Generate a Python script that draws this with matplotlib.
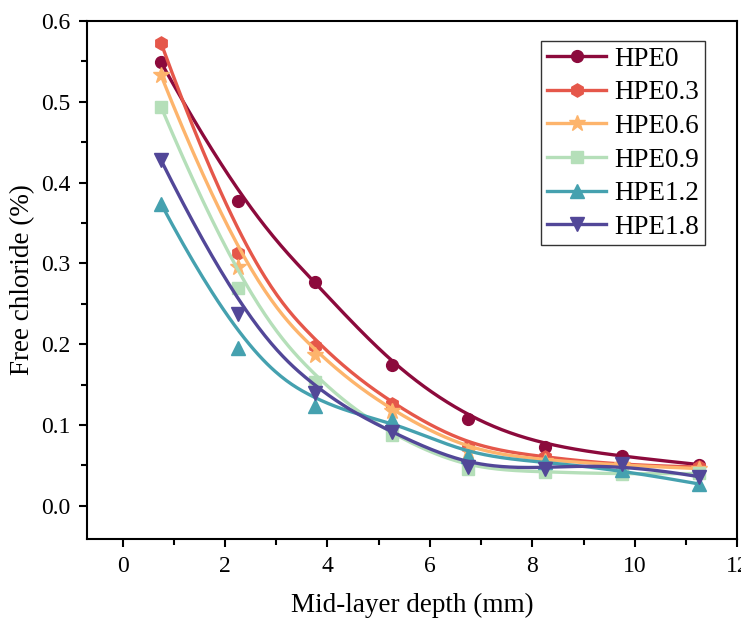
import numpy as np
import matplotlib
matplotlib.use("Agg")
import matplotlib.pyplot as plt
from matplotlib.ticker import MultipleLocator

plt.rcParams["font.family"] = ["Liberation Serif", "DejaVu Serif"]
plt.rcParams["mathtext.fontset"] = "stix"

depth = [0.75, 2.25, 3.75, 5.25, 6.75, 8.25, 9.75, 11.25]
series_names = ["HPE0", "HPE0.3", "HPE0.6", "HPE0.9", "HPE1.2", "HPE1.8"]
hpe0 = [0.549, 0.377, 0.277, 0.174, 0.108, 0.073, 0.061, 0.051]
hpe03 = [0.573, 0.313, 0.198, 0.126, 0.073, 0.060, 0.050, 0.048]
hpe06 = [0.533, 0.295, 0.186, 0.117, 0.068, 0.056, 0.050, 0.046]
hpe09 = [0.494, 0.269, 0.153, 0.087, 0.045, 0.042, 0.039, 0.040]
hpe12 = [0.374, 0.195, 0.123, 0.106, 0.062, 0.054, 0.044, 0.027]
hpe18 = [0.428, 0.237, 0.140, 0.091, 0.048, 0.046, 0.052, 0.036]

colors = ["#8c0a3c", "#e5574a", "#fdb46c", "#b5dfb9", "#45a1af", "#524798"]
markers = ["o", "h", "*", "s", "^", "v"]
msizes = [8.5, 9.5, 12, 8.5, 9.5, 9.5]


def bspline(px, py, n=300, k=3):
    # clamped uniform B-spline, data points used as control points
    px = np.asarray(px, float)
    py = np.asarray(py, float)
    m = len(px)
    inner = np.arange(1, m - k)
    knots = np.concatenate([np.zeros(k + 1), inner, np.full(k + 1, m - k)]).astype(float)
    t = np.linspace(0, m - k, n)
    t[-1] -= 1e-9
    # Cox-de Boor
    N = np.zeros((n, len(knots) - 1))
    for i in range(len(knots) - 1):
        N[:, i] = (t >= knots[i]) & (t < knots[i + 1])
    for d in range(1, k + 1):
        Nn = np.zeros((n, len(knots) - 1 - d))
        for i in range(len(knots) - 1 - d):
            a = knots[i + d] - knots[i]
            b = knots[i + d + 1] - knots[i + 1]
            left = (t - knots[i]) / a * N[:, i] if a > 0 else 0
            right = (knots[i + d + 1] - t) / b * N[:, i + 1] if b > 0 else 0
            Nn[:, i] = left + right
        N = Nn
    return N @ px, N @ py


fig = plt.figure(figsize=(7.41, 6.18), dpi=100)
ax = fig.add_axes([0.117, 0.128, 0.878, 0.838])

data = [hpe0, hpe03, hpe06, hpe09, hpe12, hpe18]
for name, vals, c, mk, ms in zip(series_names, data, colors, markers, msizes):
    sx, sy = bspline(depth, vals)
    ax.plot(sx, sy, color=c, lw=2.4)
    ax.plot(depth, vals, ls="none", marker=mk, ms=ms, color=c, mec=c)
    ax.plot([], [], color=c, lw=2.4, marker=mk, ms=ms, label=name)

ax.set_xlim(-0.7, 12)
ax.set_ylim(-0.041, 0.6)
ax.xaxis.set_major_locator(MultipleLocator(2))
ax.xaxis.set_minor_locator(MultipleLocator(1))
ax.yaxis.set_major_locator(MultipleLocator(0.1))
ax.yaxis.set_minor_locator(MultipleLocator(0.05))
ax.yaxis.set_major_formatter(matplotlib.ticker.FormatStrFormatter("%.1f"))
ax.tick_params(which="major", direction="out", length=6, width=1.5, labelsize=17, pad=6)
ax.tick_params(which="minor", direction="out", length=4, width=1.5)
for s in ax.spines.values():
    s.set_linewidth(1.5)

ax.set_xlabel("Mid-layer depth (mm)", fontsize=19.5, labelpad=12)
ax.set_ylabel("Free chloride (%)", fontsize=19.5, labelpad=4)

leg = ax.legend(loc="upper right", bbox_to_anchor=(0.95, 0.961), fontsize=19.5,
                handlelength=2.2, frameon=True, fancybox=False, borderpad=0.2,
                labelspacing=0.32, handletextpad=0.3, borderaxespad=0.0)
leg.get_frame().set_edgecolor("black")
leg.get_frame().set_linewidth(1.0)

fig.savefig("out.png", dpi=100)
